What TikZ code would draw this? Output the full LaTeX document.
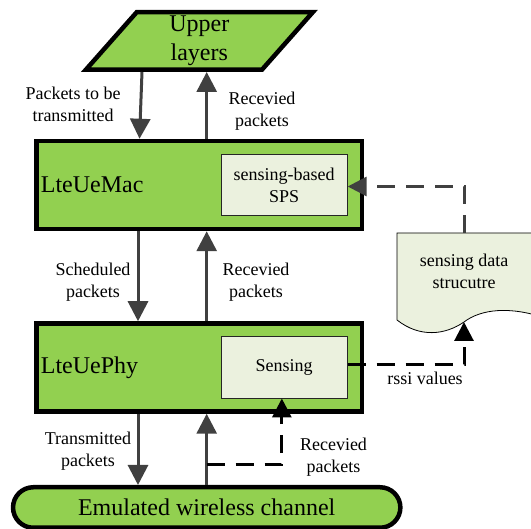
\documentclass[tikz,border=0pt]{standalone}
\usepackage{fontspec}
\setmainfont{Liberation Serif}
\usepackage{tikz}
\usetikzlibrary{positioning}
\usetikzlibrary{shapes.geometric}
\usetikzlibrary{shapes.misc}
\usetikzlibrary{arrows.meta}
\definecolor{layergreen}{HTML}{92D050}
\definecolor{palegreen}{HTML}{EBF1DE}
\definecolor{arrowgray}{HTML}{404040}

\begin{document}
\begin{tikzpicture}
		[x=1pt, y=-1pt,
		big/.style={font=\fontsize{24}{29}\selectfont},
		small/.style={font=\fontsize{18}{22}\selectfont, align=center, inner sep=0pt},
		greenbox/.style={draw=black, line width=4.5pt, fill=layergreen},
		layer/.style={greenbox, minimum width=325.5pt, minimum height=88pt},
		block/.style={small, draw=black!85, line width=0.8pt, fill=palegreen, minimum width=126.2pt, minimum height=61.2pt},
		flow/.style={draw=arrowgray, line width=3pt, -{Triangle[width=20pt,length=20pt]}},
		feed/.style={line width=3pt, dash pattern=on 18pt off 11pt, -{Triangle[width=19pt,length=19pt]}}]
		\useasboundingbox (0,0) rectangle (531,529);

		\node[layer] (mac) at (199.3,185) {};
		\node[big, right=6.4pt of mac.west, inner sep=0pt] (macname) {LteUeMac};
		\node[block, left=16.6pt of mac.east] (sps) {sensing-based\\SPS};
		\node[layer, below=90pt of mac] (phy) {};
		\node[big, right=6.4pt of phy.west, inner sep=0pt] (phyname) {LteUePhy};
		\node[block, left=16.6pt of phy.east] (sensing) {Sensing};
		\node[big, greenbox, trapezium, trapezium left angle=64, trapezium right angle=116, trapezium stretches=true, minimum width=227pt, minimum height=57.5pt, align=center, inner sep=0pt, above=66.75pt of mac] (upper) {Upper\\layers};
		\node[big, greenbox, rounded rectangle, minimum width=394pt, minimum height=40.5pt, below=71.25pt of phy, xshift=7.4pt] (chan) {Emulated wireless channel};

		\draw[fill=palegreen, line width=0.8pt] (397,233) -- (397,320) .. controls (420,338) and (445,335) .. (464,322) .. controls (481,309) and (510,306) .. (545,318) -- (545,233) -- cycle;
		\node[small] (docu) at (464,271) {sensing data\\strucutre};
		\coordinate (doctop) at (464,233);
		\coordinate (docbot) at (464,322);
		\coordinate (tap) at (206.7,465);

		\draw[flow] ([xshift=-57.3pt]upper.south) -- ([xshift=-59.8pt]mac.north);
		\draw[flow] ([xshift=7.4pt]mac.north) -- ([xshift=7.4pt]upper.south);
		\draw[flow] ([xshift=-61.3pt]mac.south) -- ([xshift=-61.3pt]phy.north);
		\draw[flow] ([xshift=7.4pt]phy.north) -- ([xshift=7.4pt]mac.south);
		\draw[flow] ([xshift=-61.3pt]phy.south) -- ([xshift=-68.7pt]chan.north);
		\draw[flow] (chan.north) -- ([xshift=7.4pt]phy.south);

		\draw[feed] (tap) -| ([xshift=-2.35pt]sensing.south);
		\draw[feed] ([yshift=3.2pt]sensing.east) -| (docbot);
		\draw[feed, draw=arrowgray] (doctop) |- ([yshift=-1.5pt]sps.east);

		\node[small] (sendlbl) at (73,104) {Packets to be\\transmitted};
		\node[small] (recvtop) at (262,111) {Recevied\\packets};
		\node[small] (schedlbl) at (93,282) {Scheduled\\packets};
		\node[small] (recvmid) at (256,282) {Recevied\\packets};
		\node[small] (txlbl) at (88,451) {Transmitted\\packets};
		\node[small] (recvlow) at (333.5,457) {Recevied\\packets};
		\node[small] (rssilbl) at (425,378.5) {rssi values};
	\end{tikzpicture}
\end{document}
